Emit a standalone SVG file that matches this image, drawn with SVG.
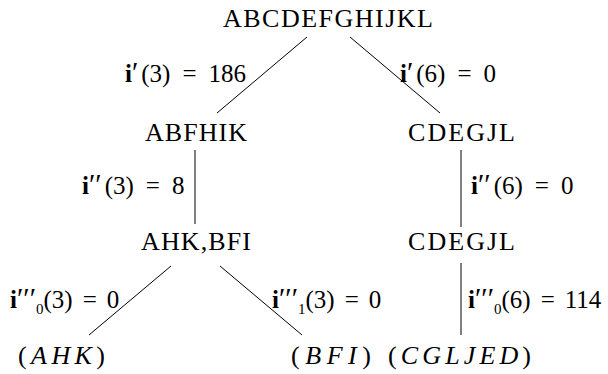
<svg xmlns="http://www.w3.org/2000/svg" width="608" height="374" viewBox="0 0 608 374">
<style>
text{font-family:"Liberation Serif","Times New Roman","DejaVu Serif",serif;font-size:25px;fill:#000}
.n{text-anchor:middle;font-size:26px}
.b{font-weight:bold}
.it{font-style:italic}
.pr{font-size:29px}
.sub{font-size:15px}
.c line{stroke:#000;stroke-width:1}
</style>
<rect width="608" height="374" fill="#fff"/>
<g class="c" id="connectors">
<line x1="307" y1="37" x2="217" y2="113"/>
<line x1="350" y1="37" x2="440" y2="113"/>
<line x1="195" y1="150" x2="195" y2="224"/>
<line x1="461" y1="150" x2="461" y2="227"/>
<line x1="171" y1="266" x2="89" y2="335"/>
<line x1="220" y1="266" x2="302" y2="335"/>
<line x1="461" y1="263" x2="461" y2="335"/>
</g>
<g id="n-root"><text class="n" x="328" y="27" textLength="210">ABCDEFGHIJKL</text></g>
<g id="n-abfhik"><text class="n" x="196" y="141" textLength="102">ABFHIK</text></g>
<g id="n-cdegjl1"><text class="n" x="461.5" y="141" textLength="107">CDEGJL</text></g>
<g id="n-ahkbfi"><text class="n" x="196" y="250" textLength="110">AHK,BFI</text></g>
<g id="n-cdegjl2"><text class="n" x="461.5" y="250" textLength="107">CDEGJL</text></g>
<g id="n-ahk"><text class="n" x="61.5" y="364" textLength="87">(<tspan class="it">AHK</tspan>)</text></g>
<g id="n-bfi"><text class="n" x="331" y="364" textLength="80">(<tspan class="it">BFI</tspan>)</text></g>
<g id="n-cgljed"><text class="n" x="459.5" y="364" textLength="143">(<tspan class="it">CGLJED</tspan>)</text></g>
<g id="labels">
<text x="125" y="82"><tspan class="b">i</tspan><tspan class="pr">′</tspan><tspan dx="3">(3)</tspan><tspan dx="12">=</tspan><tspan dx="12">186</tspan></text>
<text x="400" y="82"><tspan class="b">i</tspan><tspan class="pr">′</tspan><tspan dx="3">(6)</tspan><tspan dx="12">=</tspan><tspan dx="12">0</tspan></text>
<text x="82" y="194"><tspan class="b">i</tspan><tspan class="pr">′′</tspan><tspan dx="3">(3)</tspan><tspan dx="12">=</tspan><tspan dx="12">8</tspan></text>
<text x="471" y="194"><tspan class="b">i</tspan><tspan class="pr">′′</tspan><tspan dx="3">(6)</tspan><tspan dx="12">=</tspan><tspan dx="12">0</tspan></text>
<text x="10" y="308"><tspan class="b">i</tspan><tspan class="pr">′′′</tspan><tspan class="sub" dy="6">0</tspan><tspan dy="-6">(3)</tspan><tspan dx="10">=</tspan><tspan dx="10">0</tspan></text>
<text x="272" y="308"><tspan class="b">i</tspan><tspan class="pr">′′′</tspan><tspan class="sub" dy="6">1</tspan><tspan dy="-6">(3)</tspan><tspan dx="10">=</tspan><tspan dx="10">0</tspan></text>
<text x="468" y="308"><tspan class="b">i</tspan><tspan class="pr">′′′</tspan><tspan class="sub" dy="6">0</tspan><tspan dy="-6">(6)</tspan><tspan dx="10">=</tspan><tspan dx="10">114</tspan></text>
</g>
</svg>
